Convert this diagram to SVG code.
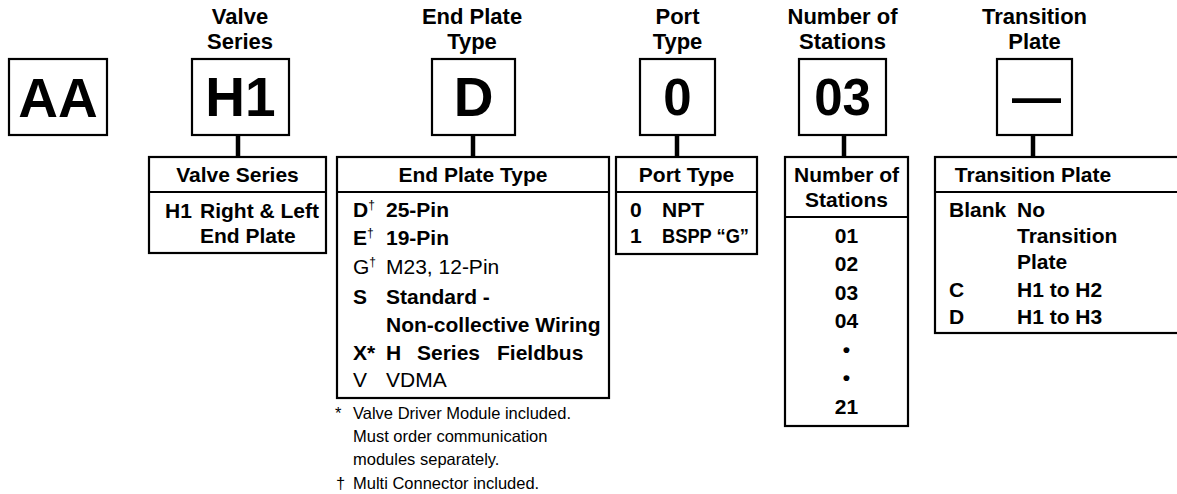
<svg xmlns="http://www.w3.org/2000/svg" width="1177" height="494" viewBox="0 0 1177 494">
<style>
text { font-family: "Liberation Sans", Arial, Helvetica, sans-serif; fill: #000; }
.title { font-size: 22px; font-weight: bold; text-anchor: middle; }
.big { font-size: 55px; font-weight: bold; text-anchor: middle; }
.hd { font-size: 21px; font-weight: bold; text-anchor: middle; }
.bd { font-size: 21px; font-weight: bold; }
.bdc { font-size: 21px; font-weight: bold; text-anchor: middle; }
.rg { font-size: 21px; font-weight: normal; }
.sup { font-size: 12px; font-weight: normal; }
.fn { font-size: 16.5px; font-weight: normal; }
.box { fill: #fff; stroke: #000; stroke-width: 2.2; }
.rule { stroke: #000; stroke-width: 2.2; fill: none; }
.conn { stroke: #000; stroke-width: 4.5; fill: none; }
</style>
<rect width="1177" height="494" fill="#fff"/>

<g id="connectors">
  <line class="conn" x1="238" y1="135" x2="238" y2="157"/>
  <line class="conn" x1="473" y1="135" x2="473" y2="157"/>
  <line class="conn" x1="677" y1="135" x2="677" y2="157"/>
  <line class="conn" x1="844" y1="135" x2="844" y2="157"/>
  <line class="conn" x1="1033" y1="135" x2="1033" y2="157"/>
</g>

<g id="node-aa">
  <rect class="box" x="9" y="59" width="98" height="76"/>
  <text class="big" x="58" y="117">AA</text>
</g>

<g id="node-h1">
  <text class="title" x="240" y="24">Valve</text>
  <text class="title" x="240" y="49">Series</text>
  <rect class="box" x="192" y="59" width="97" height="76"/>
  <text class="big" x="240.5" y="116">H1</text>
</g>

<g id="node-d">
  <text class="title" x="472" y="24">End Plate</text>
  <text class="title" x="472" y="49">Type</text>
  <rect class="box" x="432" y="59" width="83" height="76"/>
  <text class="big" x="473.5" y="116">D</text>
</g>

<g id="node-0">
  <text class="title" x="677.5" y="24">Port</text>
  <text class="title" x="677.5" y="49">Type</text>
  <rect class="box" x="640" y="59" width="75" height="76"/>
  <text class="big" x="677.5" y="115" style="font-size:51px">0</text>
</g>

<g id="node-03">
  <text class="title" x="842.5" y="24">Number of</text>
  <text class="title" x="842.5" y="49">Stations</text>
  <rect class="box" x="799" y="59" width="87" height="76"/>
  <text class="big" x="842.5" y="115" style="font-size:51px">03</text>
</g>

<g id="node-dash">
  <text class="title" x="1034.5" y="24">Transition</text>
  <text class="title" x="1034.5" y="49">Plate</text>
  <rect class="box" x="997" y="59" width="75" height="76"/>
  <text class="big" x="1036.5" y="114" style="font-size:49px">—</text>
</g>

<g id="table-valve-series">
  <rect class="box" x="149" y="157" width="177" height="96"/>
  <line class="rule" x1="149" y1="192" x2="326" y2="192"/>
  <text class="hd" x="237.5" y="182">Valve Series</text>
  <text class="bd" x="165" y="218">H1</text>
  <text class="bd" x="200" y="218">Right &amp; Left</text>
  <text class="bd" x="200" y="243">End Plate</text>
</g>

<g id="table-end-plate">
  <rect class="box" x="337" y="157" width="272" height="241"/>
  <line class="rule" x1="337" y1="192" x2="609" y2="192"/>
  <text class="hd" x="473" y="182">End Plate Type</text>
  <text class="bd" x="353" y="217">D<tspan class="sup" dy="-8">†</tspan></text>
  <text class="bd" x="386" y="217">25-Pin</text>
  <text class="bd" x="353" y="245">E<tspan class="sup" dy="-8">†</tspan></text>
  <text class="bd" x="386" y="245">19-Pin</text>
  <text class="rg" x="353" y="274">G<tspan class="sup" dy="-8">†</tspan></text>
  <text class="rg" x="386" y="274">M23, 12-Pin</text>
  <text class="bd" x="353" y="304">S</text>
  <text class="bd" x="386" y="304">Standard -</text>
  <text class="bd" x="386" y="332">Non-collective Wiring</text>
  <text class="bd" x="353" y="360">X*</text>
  <text class="bd" x="386" y="360">H</text>
  <text class="bd" x="417" y="360">Series</text>
  <text class="bd" x="497" y="360">Fieldbus</text>
  <text class="rg" x="353" y="387">V</text>
  <text class="rg" x="386" y="387">VDMA</text>
</g>

<g id="footnotes">
  <text class="fn" x="335" y="419">*</text>
  <text class="fn" x="353" y="419">Valve Driver Module included.</text>
  <text class="fn" x="353" y="442">Must order communication</text>
  <text class="fn" x="353" y="465">modules separately.</text>
  <text class="fn" x="336" y="489">†</text>
  <text class="fn" x="353" y="489">Multi Connector included.</text>
</g>

<g id="table-port-type">
  <rect class="box" x="616" y="157" width="141" height="97"/>
  <line class="rule" x1="616" y1="192" x2="757" y2="192"/>
  <text class="hd" x="686.5" y="182">Port Type</text>
  <text class="bd" x="630" y="217">0</text>
  <text class="bd" x="662" y="217">NPT</text>
  <text class="bd" x="630" y="243">1</text>
  <text class="bd" x="662" y="243" textLength="87" lengthAdjust="spacingAndGlyphs">BSPP “G”</text>
</g>

<g id="table-stations">
  <rect class="box" x="785" y="157" width="123" height="269"/>
  <line class="rule" x1="785" y1="217" x2="908" y2="217"/>
  <text class="hd" x="846.5" y="182">Number of</text>
  <text class="hd" x="846.5" y="207">Stations</text>
  <text class="bdc" x="846.5" y="243">01</text>
  <text class="bdc" x="846.5" y="271">02</text>
  <text class="bdc" x="846.5" y="300">03</text>
  <text class="bdc" x="846.5" y="328">04</text>
  <text class="bdc" x="846.5" y="357">•</text>
  <text class="bdc" x="846.5" y="385">•</text>
  <text class="bdc" x="846.5" y="414">21</text>
</g>

<g id="table-transition">
  <rect class="box" x="935" y="157" width="260" height="176"/>
  <line class="rule" x1="935" y1="192" x2="1195" y2="192"/>
  <text class="hd" x="1033" y="182">Transition Plate</text>
  <text class="bd" x="949" y="217">Blank</text>
  <text class="bd" x="1017" y="217">No</text>
  <text class="bd" x="1017" y="243">Transition</text>
  <text class="bd" x="1017" y="269">Plate</text>
  <text class="bd" x="949" y="297">C</text>
  <text class="bd" x="1017" y="297">H1 to H2</text>
  <text class="bd" x="949" y="324">D</text>
  <text class="bd" x="1017" y="324">H1 to H3</text>
</g>
</svg>
